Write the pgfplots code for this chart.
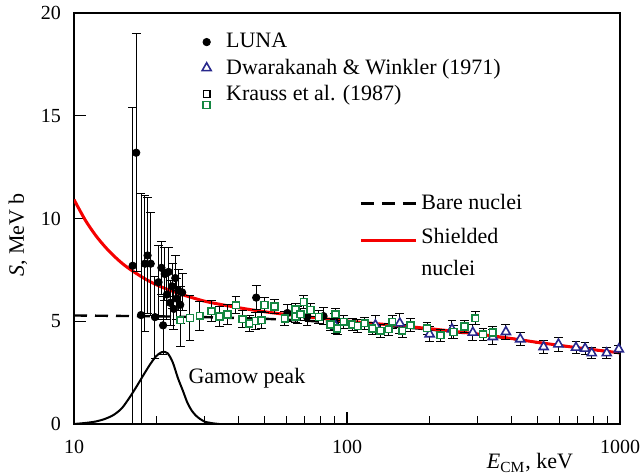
\documentclass[border=0pt]{standalone}
\usepackage{fontspec}
\setmainfont{Liberation Serif}
\usepackage{pgfplots}
\pgfplotsset{compat=1.18}
\definecolor{kgreen}{RGB}{20,135,65}
\definecolor{dblue}{RGB}{40,40,140}
\definecolor{sred}{RGB}{245,0,0}
\newcommand\lbl{\fontsize{11}{13.6}\selectfont}
\begin{document}
\begin{tikzpicture}
\begin{axis}[
  scale only axis, width=273pt, height=205.5pt,
  xmode=log, xmin=10, xmax=1000, ymin=0, ymax=20,
  xtick={10,100,1000}, xticklabels={10,100,1000},
  minor xtick={20,30,40,50,60,70,80,90,200,300,400,500,600,700,800,900},
  ytick={0,5,10,15,20},
  tick pos=left, tick align=inside,
  major tick length=6pt, minor tick length=4pt,
  axis line style={line width=0.7pt},
  every tick/.style={black, line width=0.6pt},
  /pgf/number format/assume math mode=true,
  xticklabel style={yshift=-4.5pt},
  yticklabel style={xshift=-3pt},
  xlabel={\textit{E}\textsubscript{CM}, keV},
  xlabel style={at={(rel axis cs:0.835,0)}, anchor=center, yshift=-19.5pt, font=\lbl},
  ylabel={\textit{S}, MeV b},
  ylabel style={at={(rel axis cs:0,0.46)}, anchor=center, yshift=28pt, font=\lbl},
  legend style={draw=none, fill=none, at={(rel axis cs:0.223,0.971)}, anchor=north west,
     row sep=0pt, column sep=5.5pt, font=\lbl},
  legend cell align=left,
]
\coordinate (SW) at (rel axis cs:0,0);
\coordinate (NE) at (rel axis cs:1,1);
% Gamow peak
\addplot[black, line width=1pt, smooth, forget plot] coordinates {
(10,0.0) (11,0.05) (12,0.12) (13,0.25) (14,0.45) (15,0.78) (16,1.3) (17,1.85) (18,2.4)
(19,2.9) (20,3.3) (21,3.5) (22,3.45) (23,3.0) (24,2.25) (25,1.65) (26,1.05) (27,0.65)
(28,0.4) (29,0.24) (30,0.12) (32,0.04) (34,0.0)};
% bare nuclei
\addplot[black, line width=1.2pt, dash pattern=on 6.5pt off 4pt, forget plot] coordinates {
(10,5.28) (20,5.24) (30,5.2) (50,5.12) (70,5.03) (100,4.9) (150,4.74) (200,4.6)
(300,4.36) (400,4.15) (500,3.96) (700,3.7) (1000,3.45)};
% shielded nuclei
\addplot[sred, line width=1.5pt, smooth, forget plot] coordinates {
(10,10.92) (11,9.92) (12,9.18) (13,8.62) (14,8.18) (15,7.82) (16,7.54) (18,7.10)
(20,6.78) (22,6.55) (25,6.29) (30,5.98) (35,5.80) (40,5.66) (50,5.46) (60,5.33)
(70,5.23) (100,5.01) (150,4.80) (200,4.64) (300,4.38) (400,4.16) (500,3.97)
(700,3.71) (1000,3.46)};
% LUNA
\addplot[only marks, mark=*, black, mark size=1.85pt,
  error bars/.cd, y dir=both, y explicit,
  error bar style={black, line width=0.5pt},
  error mark options={rotate=90, mark size=2.2pt, black, line width=0.5pt}]
table[x=E, y=S, y error plus=ep, y error minus=em] {
E S ep em
16.4 7.7 7.7 7.7
16.9 13.2 5.8 5.8
17.6 5.3 5.9 5.3
18.2 7.8 3.3 3.3
18.6 8.2 2.8 2.8
19.1 7.8 2.5 2.5
19.8 5.2 2.0 2.0
20.4 6.9 1.8 1.8
20.9 7.6 1.3 1.3
21.2 4.8 1.4 1.4
21.5 7.3 1.3 1.3
21.9 6.3 1.2 1.2
22.2 7.4 1.2 1.2
22.5 5.9 1.1 1.1
22.9 6.7 1.1 1.1
23.2 5.6 1.0 1.0
23.5 7.1 1.1 1.1
23.8 6.1 1.0 1.0
24.1 6.5 1.0 1.0
24.5 5.8 0.9 0.9
24.9 6.4 0.9 0.9
46.5 6.15 0.6 0.6
60.5 5.4 0.4 0.4
66 5.3 0.4 0.4
71.4 5.2 0.4 0.4
82 5.25 0.4 0.4
90 5.0 0.4 0.4
};
\addlegendentry{\raisebox{0pt}[\height][2.5pt]{LUNA}}
% Dwarakanah & Winkler
\addplot[only marks, mark=triangle*, dblue, mark size=2.6pt, line width=0.8pt,
  mark options={fill=white},
  error bars/.cd, y dir=both, y explicit,
  error bar style={black, line width=0.5pt},
  error mark options={rotate=90, mark size=2.2pt, black, line width=0.5pt}]
table[x=E, y=S, y error=e] {
E S e
90.8 4.77 0.35
127.1 4.81 0.45
156.1 4.90 0.5
200.8 4.37 0.35
242.4 4.61 0.45
289 4.45 0.4
342 4.24 0.35
382 4.48 0.35
431 4.13 0.3
525 3.75 0.3
595 3.88 0.35
690 3.72 0.3
745 3.67 0.3
788 3.45 0.25
894 3.45 0.25
990 3.64 0.2
};
\addlegendentry{Dwarakanah \& Winkler (1971)}
% Krauss et al.
\addplot[only marks, mark=square*, kgreen, mark size=1.7pt, line width=0.8pt,
  mark options={fill=white},
  legend image code/.code={
    \draw[black, line width=0.6pt, mark size=1.7pt] plot[mark=square*, mark options={fill=white}] coordinates {(0.3cm,0pt)};
    \draw[kgreen, line width=0.8pt, mark size=1.7pt] plot[mark=square*, mark options={fill=white}] coordinates {(0.3cm,-5.4pt)};
  },
  error bars/.cd, y dir=both, y explicit,
  error bar style={black, line width=0.5pt},
  error mark options={rotate=90, mark size=2.2pt, black, line width=0.5pt}]
table[x=E, y=S, y error=e] {
E S e
24.5 5.05 1.3
26.6 5.16 1.1
28.9 5.26 0.7
31.9 5.49 0.5
34.1 5.24 0.5
36.5 5.32 0.5
39.2 5.78 0.4
41.4 5.10 0.4
43.8 4.89 0.4
46.3 5.01 0.4
48.7 5.05 0.4
49.9 5.79 0.35
54.3 5.71 0.35
59.2 5.13 0.35
64.8 5.58 0.3
64.8 5.23 0.3
67.6 5.34 0.3
69.5 5.94 0.3
73.6 5.55 0.3
78.9 5.21 0.3
87.0 4.85 0.3
90.8 5.34 0.3
92.1 4.64 0.3
97.3 4.97 0.3
104.4 4.85 0.3
109.5 4.77 0.3
116.2 4.90 0.3
123.6 4.64 0.3
132.6 4.53 0.3
142.2 4.61 0.3
146.3 4.97 0.3
159.2 4.53 0.3
170.8 4.81 0.3
196.4 4.66 0.3
219.8 4.32 0.3
245.7 4.48 0.3
269 4.74 0.3
295 5.15 0.3
315 4.37 0.3
342 4.45 0.3
};
\addlegendentry{Krauss et al. (1987)}
\node[anchor=west, inner sep=0pt, font=\lbl] at (axis cs:26.2,2.24) {Gamow peak};
\end{axis}
\begin{axis}[
  scale only axis, width=273pt, height=205.5pt,
  xmin=1, xmax=3, ymin=0, ymax=20, hide axis,
  legend style={draw=none, fill=none, at={(rel axis cs:0.511,0.579)}, anchor=north west,
    row sep=0pt, font=\lbl},
  legend cell align=left,
]
\addlegendimage{black, line width=1.2pt, dash pattern=on 6.5pt off 4pt,
  legend image code/.code={\draw (0pt,0pt) -- (27.5pt,0pt);}}
\addlegendentry{Bare nuclei}
\addlegendimage{sred, line width=1.5pt,
  legend image code/.code={\draw (0pt,0pt) -- (27.5pt,0pt);}}
\addlegendentry{{\renewcommand\arraystretch{1.18}\begin{tabular}{@{}l@{}}Shielded\\nuclei\end{tabular}}}
\end{axis}
\pgfresetboundingbox
\path ([shift={(-37pt,-25pt)}]SW) rectangle ([shift={(10pt,6.5pt)}]NE);
\end{tikzpicture}
\end{document}
